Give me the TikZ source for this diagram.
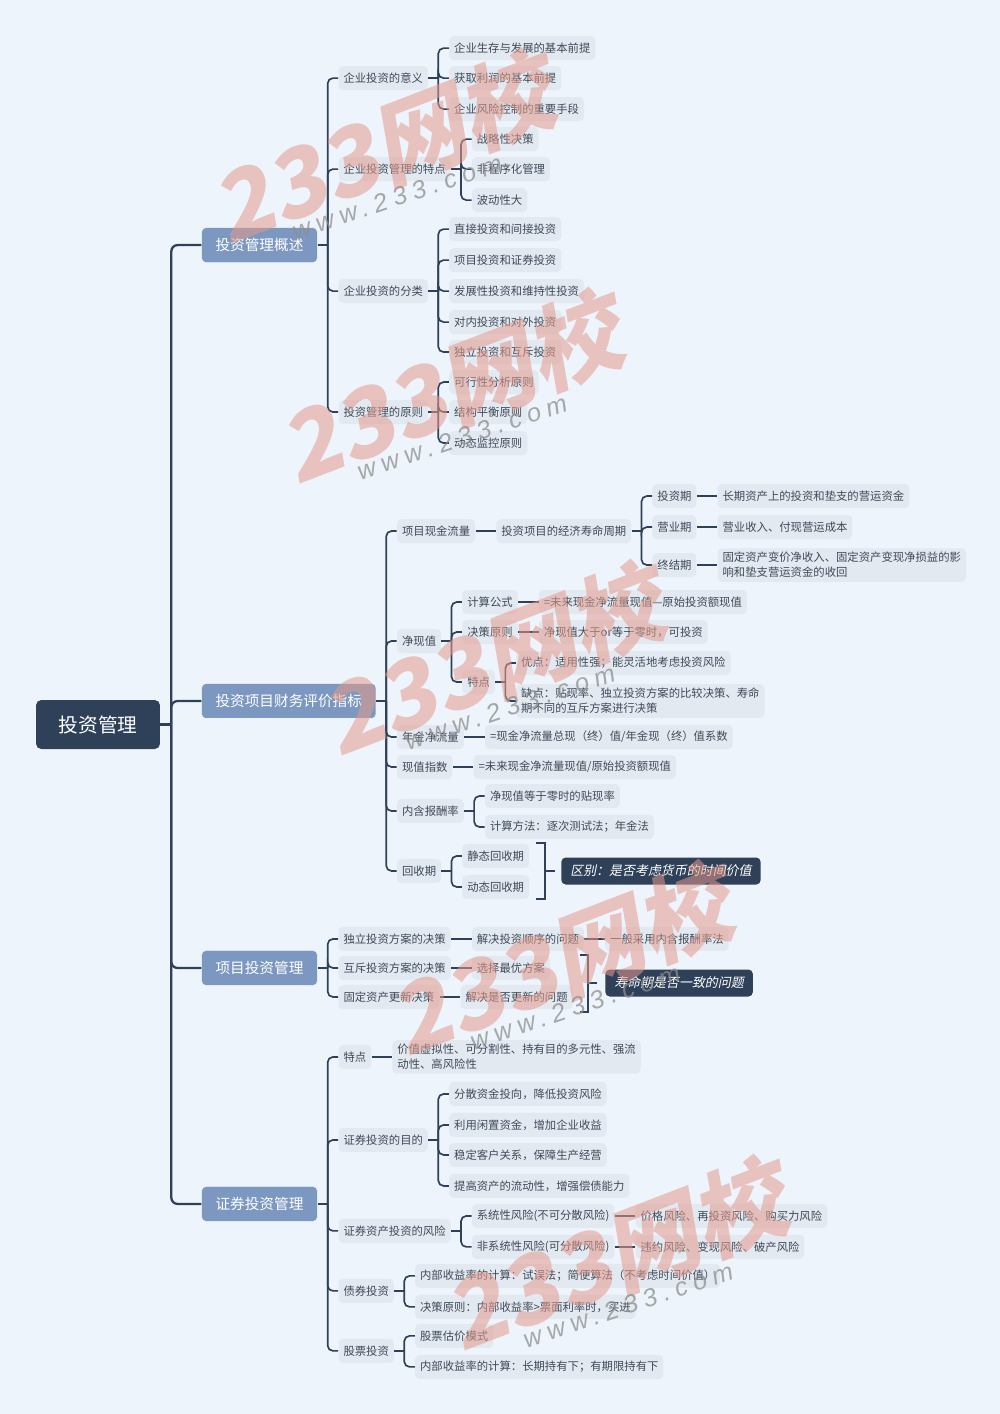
\documentclass[tikz,border=0pt]{standalone}
\usepackage{fontspec}
\setmainfont{Noto Sans CJK SC}
\newfontfamily\slantfont[FakeSlant=0.2]{Noto Sans CJK SC}
\newfontfamily\markfont[FakeSlant=0.2]{Noto Sans CJK SC}
\newfontfamily\urlfont[LetterSpace=24]{Liberation Sans}
\usetikzlibrary{positioning}
\definecolor{paper}{HTML}{EDF4FB}
\definecolor{navy}{HTML}{2F4159}
\definecolor{slate}{HTML}{7C98C1}
\definecolor{leafbg}{HTML}{E3E9F1}
\definecolor{leaftxt}{HTML}{3F4A58}
\definecolor{redmark}{HTML}{E39A8C}
\definecolor{greymark}{HTML}{8E8E8E}
\tikzset{
  rootbox/.style={draw=none, fill=navy, rounded corners=3pt, text=white,
    minimum width=2.48cm, minimum height=0.98cm, font=\fontsize{11.2}{13}\selectfont},
  mainbox/.style={draw=paper, line width=0.3pt, fill=slate, rounded corners=2.5pt, text=white,
    inner xsep=0.28cm, inner ysep=0pt, minimum height=0.7cm, font=\fontsize{8.33}{10}\selectfont},
  leaf/.style={fill=leafbg, rounded corners=2.5pt, text=leaftxt, align=left,
    inner xsep=0.1cm, inner ysep=0.08cm, minimum height=0.48cm, font=\fontsize{6.46}{8.5}\selectfont},
  notebox/.style={fill=navy, rounded corners=2.5pt, text=white, anchor=west,
    inner xsep=0.18cm, inner ysep=0pt, minimum height=0.54cm, font=\slantfont\fontsize{7.37}{9}\selectfont},
  trunk/.style={draw=navy, line width=1.3pt, rounded corners=3.5pt},
  link/.style={draw=navy, line width=0.95pt, rounded corners=3pt},
  bigmark/.style={text=redmark, opacity=0.55, rotate=21, font=\markfont\bfseries\fontsize{53}{53}\selectfont},
  urlmark/.style={text=greymark, opacity=0.75, rotate=18.5, font=\urlfont\itshape\fontsize{14.5}{16}\selectfont}
}
\newcommand{\forkto}[2]{%
  \draw[link] (#1.east) -- ++(0.2cm,0);
  \foreach \kid in {#2} \draw[link] ([xshift=0.2cm]#1.east) |- (\kid.west);
}
\newcommand{\lineto}[2]{\draw[link] (#1.east) -- (#2.west);}
\begin{document}
\begin{tikzpicture}[x=0.02cm, y=-0.02cm, node distance=0.41cm]
  \fill[paper] (0,0) rectangle (1000,1414);

  \node[rootbox] (root) at (98,724.5) {投资管理};
  \node[mainbox, right=0.82cm of root, yshift=9.59cm] (overview) {投资管理概述};
  \node[mainbox, right=0.82cm of root, yshift=0.47cm] (finance) {投资项目财务评价指标};
  \node[mainbox, right=0.82cm of root, yshift=-4.87cm] (project) {项目投资管理};
  \node[mainbox, right=0.82cm of root, yshift=-9.59cm] (security) {证券投资管理};

  % overview
  \node[leaf, right=of overview, yshift=3.34cm] (sense) {企业投资的意义};
  \node[leaf, right=of overview, yshift=1.52cm] (trait) {企业投资管理的特点};
  \node[leaf, right=of overview, yshift=-0.92cm] (kinds) {企业投资的分类};
  \node[leaf, right=of overview, yshift=-3.34cm] (rules) {投资管理的原则};
  \node[leaf, right=of sense, yshift=0.6cm] (senseA) {企业生存与发展的基本前提};
  \node[leaf, right=of sense] (senseB) {获取利润的基本前提};
  \node[leaf, right=of sense, yshift=-0.62cm] (senseC) {企业风险控制的重要手段};
  \node[leaf, right=of trait, yshift=0.6cm] (traitA) {战略性决策};
  \node[leaf, right=of trait] (traitB) {非程序化管理};
  \node[leaf, right=of trait, yshift=-0.62cm] (traitC) {波动性大};
  \node[leaf, right=of kinds, yshift=1.24cm] (kindsA) {直接投资和间接投资};
  \node[leaf, right=of kinds, yshift=0.62cm] (kindsB) {项目投资和证券投资};
  \node[leaf, right=of kinds] (kindsC) {发展性投资和维持性投资};
  \node[leaf, right=of kinds, yshift=-0.62cm] (kindsD) {对内投资和对外投资};
  \node[leaf, right=of kinds, yshift=-1.22cm] (kindsE) {独立投资和互斥投资};
  \node[leaf, right=of rules, yshift=0.6cm] (rulesA) {可行性分析原则};
  \node[leaf, right=of rules] (rulesB) {结构平衡原则};
  \node[leaf, right=of rules, yshift=-0.62cm] (rulesC) {动态监控原则};

  % finance
  \node[leaf, right=of finance, yshift=3.4cm] (cash) {项目现金流量};
  \node[leaf, right=of finance, yshift=1.2cm] (npv) {净现值};
  \node[leaf, right=of finance, yshift=-0.72cm] (annuity) {年金净流量};
  \node[leaf, right=of finance, yshift=-1.32cm] (pvi) {现值指数};
  \node[leaf, right=of finance, yshift=-2.2cm] (irr) {内含报酬率};
  \node[leaf, right=of finance, yshift=-3.4cm] (payback) {回收期};
  \node[leaf, right=of cash] (cycle) {投资项目的经济寿命周期};
  \node[leaf, right=of cycle, yshift=0.7cm] (build) {投资期};
  \node[leaf, right=of cycle, yshift=0.08cm] (run) {营业期};
  \node[leaf, right=of cycle, yshift=-0.68cm] (finish) {终结期};
  \node[leaf, right=of build] (buildT) {长期资产上的投资和垫支的营运资金};
  \node[leaf, right=of run] (runT) {营业收入、付现营运成本};
  \node[leaf, right=of finish] (finishT) {固定资产变价净收入、固定资产变现净损益的影\\响和垫支营运资金的收回};
  \node[leaf, right=of npv, yshift=0.78cm] (formula) {计算公式};
  \node[leaf, right=of npv, yshift=0.18cm] (decide) {决策原则};
  \node[leaf, right=of npv, yshift=-0.82cm] (npvtrait) {特点};
  \node[leaf, right=of formula] (formulaT) {=未来现金净流量现值—原始投资额现值};
  \node[leaf, right=of decide] (decideT) {净现值大于or等于零时，可投资};
  \node[leaf, right=of npvtrait, yshift=0.38cm] (pros) {优点：适用性强；能灵活地考虑投资风险};
  \node[leaf, right=of npvtrait, yshift=-0.38cm] (cons) {缺点：贴现率、独立投资方案的比较决策、寿命\\期不同的互斥方案进行决策};
  \node[leaf, right=of annuity] (annuityT) {=现金净流量总现（终）值/年金现（终）值系数};
  \node[leaf, right=of pvi] (pviT) {=未来现金净流量现值/原始投资额现值};
  \node[leaf, right=of irr, yshift=0.3cm] (irrA) {净现值等于零时的贴现率};
  \node[leaf, right=of irr, yshift=-0.32cm] (irrB) {计算方法：逐次测试法；年金法};
  \node[leaf, right=of payback, yshift=0.3cm] (paystatic) {静态回收期};
  \node[leaf, right=of payback, yshift=-0.32cm] (paydyn) {动态回收期};
  \node[notebox] (noteA) at (561,871) {区别：是否考虑货币的时间价值};

  % project
  \node[leaf, right=of project, yshift=0.58cm] (alone) {独立投资方案的决策};
  \node[leaf, right=of project] (either) {互斥投资方案的决策};
  \node[leaf, right=of project, yshift=-0.58cm] (renew) {固定资产更新决策};
  \node[leaf, right=of alone] (aloneT) {解决投资顺序的问题};
  \node[leaf, right=of aloneT] (aloneU) {一般采用内含报酬率法};
  \node[leaf, right=of either] (eitherT) {选择最优方案};
  \node[leaf, right=of renew] (renewT) {解决是否更新的问题};
  \node[notebox] (noteB) at (605,983) {寿命期是否一致的问题};

  % security
  \node[leaf, right=of security, yshift=2.94cm] (sectrait) {特点};
  \node[leaf, right=of security, yshift=1.28cm] (aim) {证券投资的目的};
  \node[leaf, right=of security, yshift=-0.54cm] (risk) {证券资产投资的风险};
  \node[leaf, right=of security, yshift=-1.74cm] (bond) {债券投资};
  \node[leaf, right=of security, yshift=-2.94cm] (stock) {股票投资};
  \node[leaf, right=of sectrait] (sectraitT) {价值虚拟性、可分割性、持有目的多元性、强流\\动性、高风险性};
  \node[leaf, right=of aim, yshift=0.92cm] (aimA) {分散资金投向，降低投资风险};
  \node[leaf, right=of aim, yshift=0.3cm] (aimB) {利用闲置资金，增加企业收益};
  \node[leaf, right=of aim, yshift=-0.3cm] (aimC) {稳定客户关系，保障生产经营};
  \node[leaf, right=of aim, yshift=-0.92cm] (aimD) {提高资产的流动性，增强偿债能力};
  \node[leaf, right=of risk, yshift=0.3cm] (riskA) {系统性风险(不可分散风险)};
  \node[leaf, right=of risk, yshift=-0.32cm] (riskB) {非系统性风险(可分散风险)};
  \node[leaf, right=of riskA] (riskAT) {价格风险、再投资风险、购买力风险};
  \node[leaf, right=of riskB] (riskBT) {违约风险、变现风险、破产风险};
  \node[leaf, right=of bond, yshift=0.3cm] (bondA) {内部收益率的计算：试误法；简便算法（不考虑时间价值）};
  \node[leaf, right=of bond, yshift=-0.32cm] (bondB) {决策原则：内部收益率>票面利率时，买进};
  \node[leaf, right=of stock, yshift=0.3cm] (stockA) {股票估价模式};
  \node[leaf, right=of stock, yshift=-0.32cm] (stockB) {内部收益率的计算：长期持有下；有期限持有下};

  % connectors
  \draw[trunk] (root.east) -- ++(0.22cm,0);
  \foreach \kid in {overview,finance,project,security}
    \draw[trunk] ([xshift=0.22cm]root.east) |- (\kid.west);
  \forkto{overview}{sense,trait,kinds,rules}
  \forkto{sense}{senseA,senseB,senseC}
  \forkto{trait}{traitA,traitB,traitC}
  \forkto{kinds}{kindsA,kindsB,kindsC,kindsD,kindsE}
  \forkto{rules}{rulesA,rulesB,rulesC}
  \forkto{finance}{cash,npv,annuity,pvi,irr,payback}
  \lineto{cash}{cycle}
  \forkto{cycle}{build,run,finish}
  \lineto{build}{buildT}
  \lineto{run}{runT}
  \lineto{finish}{finishT}
  \forkto{npv}{formula,decide,npvtrait}
  \lineto{formula}{formulaT}
  \lineto{decide}{decideT}
  \forkto{npvtrait}{pros,cons}
  \lineto{annuity}{annuityT}
  \lineto{pvi}{pviT}
  \forkto{irr}{irrA,irrB}
  \forkto{payback}{paystatic,paydyn}
  \forkto{project}{alone,either,renew}
  \lineto{alone}{aloneT}
  \lineto{aloneT}{aloneU}
  \lineto{either}{eitherT}
  \lineto{renew}{renewT}
  \forkto{security}{sectrait,aim,risk,bond,stock}
  \lineto{sectrait}{sectraitT}
  \forkto{aim}{aimA,aimB,aimC,aimD}
  \forkto{risk}{riskA,riskB}
  \lineto{riskA}{riskAT}
  \lineto{riskB}{riskBT}
  \forkto{bond}{bondA,bondB}
  \forkto{stock}{stockA,stockB}

  % brackets
  \coordinate (payTop) at (536,843);
  \coordinate (payBot) at (536,899);
  \coordinate (lifeTop) at (580,955);
  \coordinate (lifeBot) at (580,1012);
  \draw[link, rounded corners=0pt] (payTop) -- ++(0.18cm,0) |- (payBot);
  \draw[link] ([xshift=-0.12cm]noteA.west) -- ++(-0.2cm,0);
  \draw[link, rounded corners=0pt] (lifeTop) -- ++(0.16cm,0) |- (lifeBot);
  \draw[link] ([xshift=-0.16cm]noteB.west) -- ++(-0.18cm,0);

  % watermarks
  \foreach \wx/\wy/\ux/\uy/\n in {382/148/397/197/1, 450/388/462/437/2, 492/660/510/707/3,
      560/960/575/1007/4, 615/1255/628/1305/5}{
    \node[bigmark] (mark\n) at (\wx,\wy) {233网校};
    \node[urlmark] (url\n) at (\ux,\uy) {www.233.com};
  }
\end{tikzpicture}
\end{document}
